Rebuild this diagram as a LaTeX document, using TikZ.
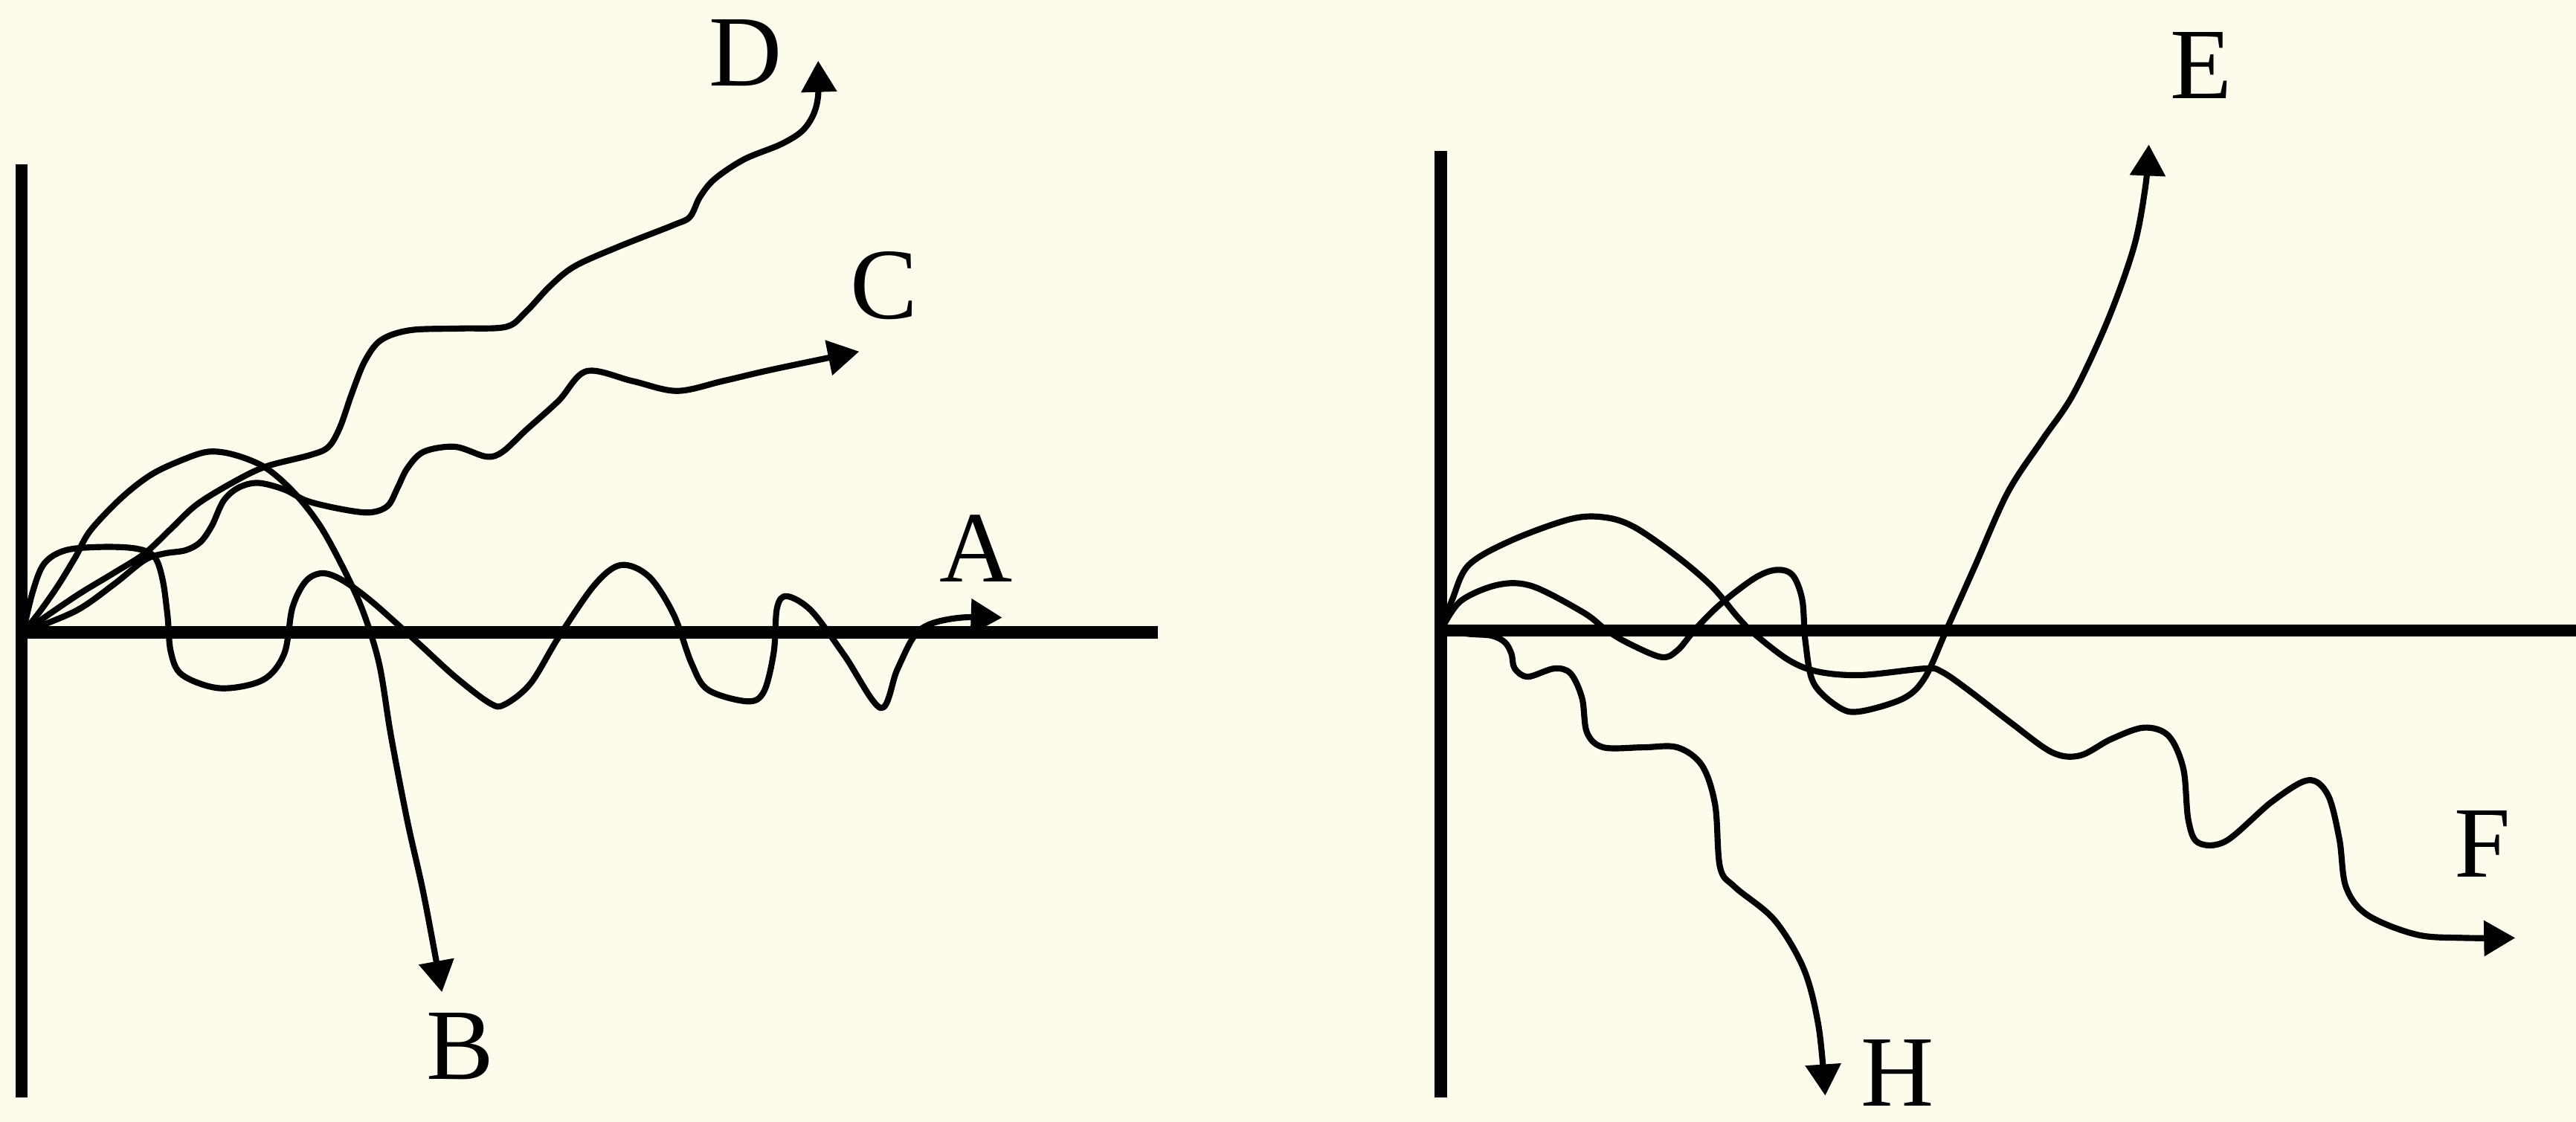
\documentclass[tikz,border=0pt]{standalone}
\usepackage{fontspec}
\setmainfont{Liberation Serif}
\usetikzlibrary{arrows.meta}
\definecolor{paper}{RGB}{253,252,236}
\begin{document}
\begin{tikzpicture}[x=0.01cm,y=-0.01cm,
  axis/.style={line width=2.1pt},
  curve/.style={line width=1.05pt, line cap=round, line join=round},
  arrowed/.style={curve, -{Triangle[length=0.19cm,width=0.21cm]}},
  lbl/.style={font=\fontsize{17.5}{20}\selectfont, inner sep=0pt}]
\fill[paper] (0,0) rectangle (1568,683);
\useasboundingbox (0,0) rectangle (1568,683);
% origins
\coordinate (O1) at (14,385);
\coordinate (O2) at (877,384);
% axes
\coordinate (L1top) at (13,100);
\coordinate (L1bot) at (13,668);
\coordinate (L1end) at (705,385);
\coordinate (R1top) at (877,92);
\coordinate (R1bot) at (877,668);
\coordinate (R1end) at (1568,384);
\draw[axis] (L1top) -- (L1bot);
\draw[axis] (O1) -- (L1end);
\draw[axis] (R1top) -- (R1bot);
\draw[axis] (O2) -- (R1end);
% labels
\node[lbl] (lA) at (594,334) {A};
\node[lbl] (lB) at (280,637) {B};
\node[lbl] (lC) at (538,174) {C};
\node[lbl] (lD) at (454,32) {D};
\node[lbl] (lE) at (1340,40) {E};
\node[lbl] (lF) at (1511,514) {F};
\node[lbl] (lH) at (1155,653) {H};
% curve A
\draw[arrowed] plot[smooth, tension=0.55] coordinates {(O1) (20,360) (27,343) (40,335) (62,333) (83,334) (94,339) (99,353) (102,375) (104,397) (111,411) (134,419) (160,414) (173,398) (178,370) (186,354) (196,349) (208,353) (226,366) (254,391) (277,412) (298,428) (307,429) (323,416) (340,388) (362,356) (378,344) (395,351) (410,374) (421,404) (431,420) (455,427) (465,421) (471,397) (473,370) (479,363) (494,372) (514,399) (536,431) (546,408) (556,388) (566,380) (585,376) (610,376)};
% curve B
\draw[arrowed] plot[smooth, tension=0.55] coordinates {(O1) (23,374) (35,357) (46,339) (55,323) (74,303) (92,289) (111,280) (127,275) (143,277) (162,285) (180,301) (196,322) (212,352) (222,375) (231,405) (238,448) (248,500) (258,545) (269,604)};
% curve C
\draw[arrowed] plot[smooth, tension=0.55] coordinates {(O1) (46,372) (69,356) (88,341) (100,337) (113,335) (122,330) (129,320) (136,305) (145,297) (157,294) (173,298) (187,305) (208,310) (225,312) (236,308) (242,297) (248,285) (258,275) (277,272) (296,278) (306,275) (320,262) (340,244) (357,226) (385,232) (412,238) (440,232) (470,225) (523,214)};
% curve D
\draw[arrowed] plot[smooth, tension=0.55] coordinates {(O1) (46,363) (69,349) (88,337) (104,322) (120,307) (143,293) (162,284) (189,277) (200,272) (207,260) (214,240) (222,220) (232,207) (250,201) (280,200) (308,199) (320,190) (335,174) (350,162) (377,150) (410,137) (420,132) (426,120) (435,109) (453,97) (475,88) (488,80) (495,70) (498,58) (498,37)};
% curve E
\draw[arrowed] plot[smooth, tension=0.55] coordinates {(O2) (889,366) (912,356) (933,357) (964,373) (977,383) (990,391) (1011,400) (1021,396) (1032,383) (1047,368) (1068,352) (1081,347) (1091,350) (1097,365) (1099,391) (1104,416) (1120,431) (1133,433) (1159,425) (1172,412) (1185,383) (1202,345) (1222,300) (1243,268) (1262,240) (1283,195) (1299,150) (1306,113) (1308,88)};
% curve F
\draw[arrowed] plot[smooth, tension=0.55] coordinates {(O2) (884,365) (894,344) (920,329) (956,316) (977,315) (995,321) (1021,339) (1042,357) (1058,376) (1068,386) (1089,402) (1107,409) (1133,411) (1172,407) (1182,409) (1198,420) (1224,440) (1249,458) (1266,460) (1285,450) (1305,443) (1320,448) (1329,468) (1332,499) (1338,513) (1355,512) (1383,488) (1405,475) (1417,484) (1424,511) (1428,540) (1441,557) (1471,569) (1500,571) (1531,571)};
% curve H
\draw[arrowed] plot[smooth, tension=0.55] coordinates {(O2) (895,386) (908,387) (916,391) (920,398) (922,407) (930,412) (946,407) (956,410) (963,425) (966,446) (976,455) (1000,455) (1021,455) (1036,466) (1044,490) (1047,528) (1056,540) (1080,560) (1098,590) (1107,625) (1111,667)};
\end{tikzpicture}
\end{document}
